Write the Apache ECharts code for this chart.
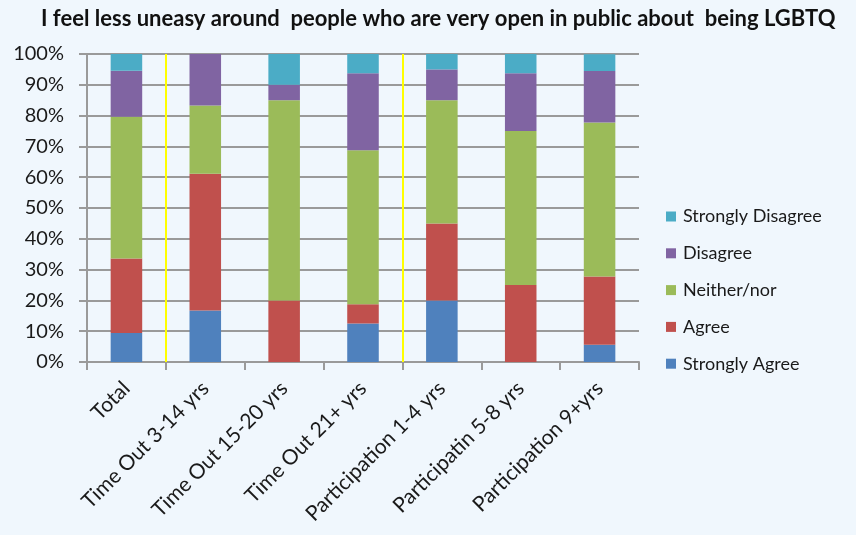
<!DOCTYPE html>
<html>
<head>
<meta charset="utf-8">
<script src="https://cdn.jsdelivr.net/npm/echarts@6/dist/echarts.min.js"></script>
<style>
    html, body { margin: 0; padding: 0; background: #f0f7fd; }
    #chart { width: 856px; height: 535px; }
</style>
</head>
<body>
<div id="chart"></div>
<script>
// categories and answer shares (percent of respondents)
const categories = ['Total', 'Time Out 3-14 yrs', 'Time Out 15-20 yrs', 'Time Out 21+ yrs',
    'Participation 1-4 yrs', 'Participatin 5-8 yrs', 'Participation 9+yrs']
const stronglyAgree = [9.4, 16.7, 0, 12.5, 20, 0, 5.6]
const agree = [24.2, 44.4, 20, 6.25, 25, 25, 22.2]
const neitherNor = [46.0, 22.2, 65, 50, 40, 50, 50]
const disagree = [15.0, 16.7, 5, 25, 10, 18.75, 16.7]
const stronglyDisagree = [5.4, 0, 10, 6.25, 5, 6.25, 5.4]
const yTicks = [0, 10, 20, 30, 40, 50, 60, 70, 80, 90, 100]
// group separators sit between categories (boundary index)
const separators = [1, 4]

const font = 'Lato, "Open Sans", sans-serif'
const gridColor = '#9a9a9a'
const textColor = '#1a1a1a'

const chart = echarts.init(document.getElementById('chart'))

const barSeries = (name, data, color) => ({
    name: name,
    type: 'bar',
    stack: 'total',
    data: data,
    barWidth: '40%',
    itemStyle: { color: color },
    emphasis: { disabled: true },
})

const option = {
    animation: false,
    backgroundColor: '#f0f7fd',
    title: {
        text: 'I feel less uneasy around  people who are very open in public about  being LGBTQ',
        left: 36,
        top: 3,
        textStyle: {
            fontFamily: font,
            fontWeight: 'bold',
            fontSize: 22,
            color: '#111',
        },
    },
    legend: {
        orient: 'vertical',
        left: 661,
        top: 201,
        itemWidth: 10,
        itemHeight: 10,
        itemGap: 15.8,
        icon: 'rect',
        data: ['Strongly Disagree', 'Disagree', 'Neither/nor', 'Agree', 'Strongly Agree'],
        textStyle: {
            fontFamily: font,
            fontSize: 18,
            lineHeight: 21,
            color: textColor,
            padding: [0, 0, 0, 2],
        },
    },
    grid: {
        left: 87,
        right: 217,
        top: 54,
        bottom: 173,
    },
    xAxis: [
        {
            type: 'category',
            data: categories,
            axisLine: { lineStyle: { color: gridColor, width: 2 } },
            axisTick: { show: true, length: 8, lineStyle: { color: gridColor, width: 2 } },
            axisLabel: {
                rotate: 45,
                interval: 0,
                margin: 23,
                fontFamily: font,
                fontSize: 21,
                color: textColor,
            },
        },
        {
            type: 'value',
            min: 0,
            max: categories.length,
            show: false,
        },
    ],
    yAxis: {
        type: 'value',
        min: yTicks[0],
        max: yTicks[yTicks.length - 1],
        interval: 10,
        axisLine: { show: true, lineStyle: { color: gridColor, width: 2 } },
        axisTick: { show: true, length: 8, lineStyle: { color: gridColor, width: 2 } },
        splitLine: { show: true, lineStyle: { color: gridColor, width: 2 } },
        axisLabel: {
            formatter: '{value}%',
            margin: 23,
            fontFamily: font,
            fontSize: 20,
            color: textColor,
        },
    },
    series: [
        barSeries('Strongly Agree', stronglyAgree, '#4f81bd'),
        barSeries('Agree', agree, '#c0504d'),
        barSeries('Neither/nor', neitherNor, '#9bbb59'),
        barSeries('Disagree', disagree, '#8064a2'),
        barSeries('Strongly Disagree', stronglyDisagree, '#4bacc6'),
        {
            name: 'separators',
            type: 'line',
            xAxisIndex: 1,
            data: [],
            silent: true,
            markLine: {
                silent: true,
                symbol: 'none',
                label: { show: false },
                lineStyle: { color: '#ffff00', width: 2, type: 'solid' },
                data: separators.map(v => ({ xAxis: v })),
            },
        },
    ],
}

chart.setOption(option)
</script>
</body>
</html>
